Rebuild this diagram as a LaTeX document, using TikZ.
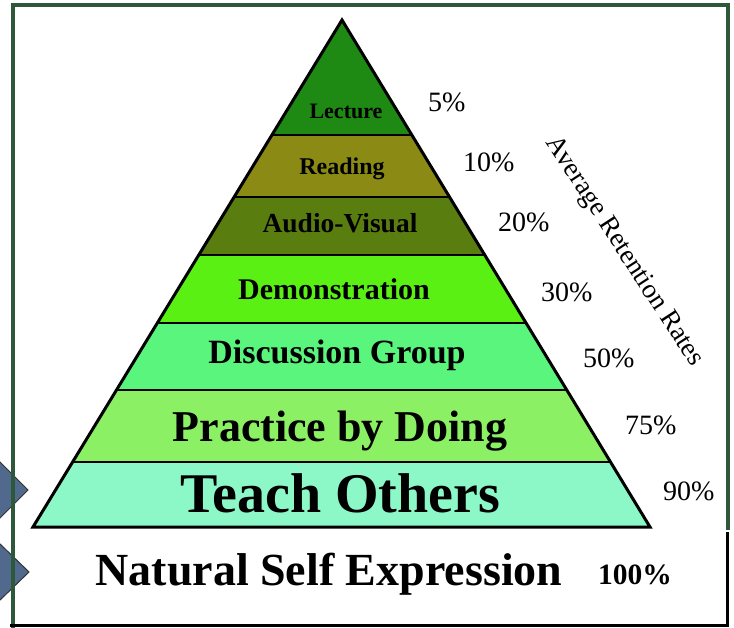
\documentclass[tikz,border=0pt]{standalone}
\usepackage{fontspec}
\setmainfont{Liberation Serif}
\definecolor{framegreen}{RGB}{45,88,58}
\definecolor{cLec}{RGB}{30,138,20}
\definecolor{cRead}{RGB}{138,138,20}
\definecolor{cAV}{RGB}{90,125,15}
\definecolor{cDemo}{RGB}{90,240,20}
\definecolor{cDisc}{RGB}{90,245,125}
\definecolor{cPrac}{RGB}{140,240,100}
\definecolor{cTeach}{RGB}{140,248,200}
\definecolor{cDia}{RGB}{80,105,140}
\tikzset{
  layertext/.style={anchor=base, font=\bfseries, inner sep=0pt},
  pcttext/.style={anchor=base west, inner sep=0pt, font=\fontsize{28}{30}\selectfont},
  bandline/.style={line width=2.5pt, black},
  diam/.style={fill=cDia, draw=black!80, line width=1pt}
}
\begin{document}
\begin{tikzpicture}[x=1pt,y=-1pt]
\useasboundingbox (0,0) rectangle (734,628);
\fill[white] (0,0) rectangle (734,628);
% diamonds on the left
\begin{scope}
\clip (0,0) rectangle (734,628);
\draw[diam] (-2,460) -- (28,490) -- (-2,520) -- (-32,490) -- cycle;
\draw[diam] (-1,543) -- (29,572) -- (-1,601) -- (-31,572) -- cycle;
\end{scope}
% outer frame
\draw[framegreen, line width=4pt] (13,628) -- (13,5) -- (728,5) -- (728,530);
\draw[black, line width=3pt] (10,625) -- (727,625) -- (727,532);
% pyramid
\coordinate (apex) at (342,20);
\coordinate (bl) at (33,527);
\coordinate (br) at (650,527);
\begin{scope}
\clip (apex) -- (bl) -- (br) -- cycle;
\fill[cLec] (0,0) rectangle (734,135);
\fill[cRead] (0,135) rectangle (734,197);
\fill[cAV] (0,197) rectangle (734,255);
\fill[cDemo] (0,255) rectangle (734,323);
\fill[cDisc] (0,323) rectangle (734,390);
\fill[cPrac] (0,390) rectangle (734,462);
\fill[cTeach] (0,462) rectangle (734,530);
\draw[bandline] (0,135) -- (734,135);
\draw[bandline] (0,197) -- (734,197);
\draw[bandline] (0,255) -- (734,255);
\draw[bandline] (0,323) -- (734,323);
\draw[bandline] (0,390) -- (734,390);
\draw[bandline] (0,462) -- (734,462);
\end{scope}
\draw[line width=3pt, line join=miter] (apex) -- (bl) -- (br) -- cycle;
% layer labels
\node[layertext, font=\bfseries\fontsize{22}{24}\selectfont] (lec) at (346,119) {Lecture};
\node[layertext, font=\bfseries\fontsize{24}{26}\selectfont] (read) at (342,175) {Reading};
\node[layertext, font=\bfseries\fontsize{27.5}{30}\selectfont] (av) at (340,233) {Audio-Visual};
\node[layertext, font=\bfseries\fontsize{30}{32}\selectfont] (demo) at (334,300) {Demonstration};
\node[layertext, font=\bfseries\fontsize{34}{36}\selectfont] (disc) at (337,363) {Discussion Group};
\node[layertext, font=\bfseries\fontsize{44}{46}\selectfont] (prac) at (340,442) {Practice by Doing};
\node[layertext, font=\bfseries\fontsize{56}{58}\selectfont] (teach) at (340,512) {Teach Others};
\node[layertext, font=\bfseries\fontsize{46}{48}\selectfont] (nse) at (329,585) {Natural Self Expression};
\node[anchor=base west, inner sep=0pt, font=\bfseries\fontsize{29.5}{31}\selectfont] (p100) at (598,584) {100\%};
% percentages
\node[pcttext] (p5) at (428,112) {5\%};
\node[pcttext] (p10) at (463,172) {10\%};
\node[pcttext] (p20) at (498,232) {20\%};
\node[pcttext] (p30) at (541,302) {30\%};
\node[pcttext] (p50) at (583,367) {50\%};
\node[pcttext] (p75) at (625,435) {75\%};
\node[pcttext] (p90) at (663,500) {90\%};
% rotated title
\node[inner sep=0pt, rotate=-57, font=\fontsize{27}{29}\selectfont] (art) at (624,252) {Average Retention Rates};
\end{tikzpicture}
\end{document}
